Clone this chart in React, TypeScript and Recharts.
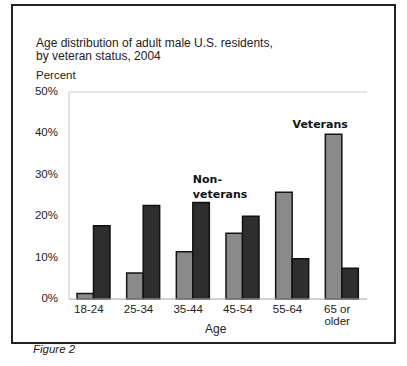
import { Bar, BarChart, CartesianGrid, LabelList, Text, XAxis, YAxis } from "recharts";

const AGE_GROUPS = ["18-24", "25-34", "35-44", "45-54", "55-64", "65 or older"];
const VETERANS = [1.3, 6.3, 11.4, 15.9, 25.8, 39.8];
const NON_VETERANS = [17.7, 22.6, 23.3, 20, 9.7, 7.4];
const PERCENT_TICKS = [0, 10, 20, 30, 40, 50];

const data = AGE_GROUPS.map((age, i) => ({
  age,
  veterans: VETERANS[i],
  nonVeterans: NON_VETERANS[i],
}));

const SANS = '"Liberation Sans", Arial, sans-serif';
const BOLD = '"DejaVu Sans", Verdana, sans-serif';

function AgeTick({ x, y, payload }: any) {
  return (
    <Text
      x={x - 5}
      y={y}
      width={40}
      textAnchor="middle"
      verticalAnchor="start"
      fontSize={11.5}
      fontFamily={SANS}
      fill="#222"
    >
      {payload.value}
    </Text>
  );
}

// series names sit above one bar each, like the original
function VeteransLabel({ x, y, width, index }: any) {
  if (index !== 5) return null;
  return (
    <text
      x={x + width + 6}
      y={y - 10}
      textAnchor="end"
      dominantBaseline="central"
      fontSize={11}
      fontWeight="bold"
      fontFamily={BOLD}
      fill="#111"
    >
      Veterans
    </text>
  );
}

function NonVeteransLabel({ x, y, index }: any) {
  if (index !== 2) return null;
  return (
    <text x={x} y={y - 23} fontSize={11} fontWeight="bold" fontFamily={BOLD} fill="#111">
      <tspan x={x} dominantBaseline="central">Non-</tspan>
      <tspan x={x} dy={15} dominantBaseline="central">veterans</tspan>
    </text>
  );
}

export default function App() {
  return (
    <div
      style={{
        position: "absolute",
        left: 0,
        top: 0,
        width: 407,
        height: 366,
        background: "#fff",
        fontFamily: SANS,
        color: "#222",
      }}
    >
      <div
        style={{
          position: "absolute",
          left: 11,
          top: 4,
          width: 381,
          height: 336,
          border: "2px solid #222",
        }}
      />
      <div style={{ position: "absolute", left: 36, top: 37, fontSize: 12, lineHeight: "13px" }}>
        Age distribution of adult male U.S. residents,
        <br />
        by veteran status, 2004
      </div>
      <div style={{ position: "absolute", left: 36, top: 69, fontSize: 11.5, lineHeight: "12px" }}>
        Percent
      </div>
      <div style={{ position: "absolute", left: 205, top: 323, fontSize: 12, lineHeight: "12px" }}>
        Age
      </div>
      <div
        style={{
          position: "absolute",
          left: 33,
          top: 343,
          fontSize: 11.5,
          lineHeight: "12px",
          fontStyle: "italic",
        }}
      >
        Figure 2
      </div>
      <div style={{ position: "absolute", left: 0, top: 0 }}>
        <BarChart
          width={407}
          height={366}
          data={data}
          margin={{ top: 92, right: 40, bottom: 37, left: 0 }}
          barSize={16.5}
          barGap={0}
        >
          <CartesianGrid vertical={false} stroke="#cfcfcf" />
          <XAxis
            dataKey="age"
            height={30}
            tickLine={false}
            tickMargin={0}
            axisLine={{ stroke: "#bbb" }}
            tick={<AgeTick />}
            interval={0}
          />
          <YAxis
            yAxisId="l"
            width={69}
            domain={[0, 50]}
            ticks={PERCENT_TICKS}
            tickFormatter={(v) => `${v}%`}
            tickLine={false}
            tickMargin={5}
            axisLine={{ stroke: "#c4c4c4" }}
            tick={{ fontSize: 11.5, fontFamily: SANS, fill: "#222", dy: -1 }}
          />
          <YAxis
            yAxisId="r"
            orientation="right"
            width={0}
            domain={[0, 50]}
            tick={false}
            tickLine={false}
            axisLine={{ stroke: "#cfcfcf" }}
          />
          <Bar
            yAxisId="l"
            dataKey="veterans"
            fill="#8a8a8a"
            stroke="#151515"
            strokeWidth={1.5}
            isAnimationActive={false}
          >
            <LabelList dataKey="veterans" content={<VeteransLabel />} />
          </Bar>
          <Bar
            yAxisId="l"
            dataKey="nonVeterans"
            fill="#2e2e2e"
            stroke="#111"
            strokeWidth={1.5}
            isAnimationActive={false}
          >
            <LabelList dataKey="nonVeterans" content={<NonVeteransLabel />} />
          </Bar>
        </BarChart>
      </div>
    </div>
  );
}
